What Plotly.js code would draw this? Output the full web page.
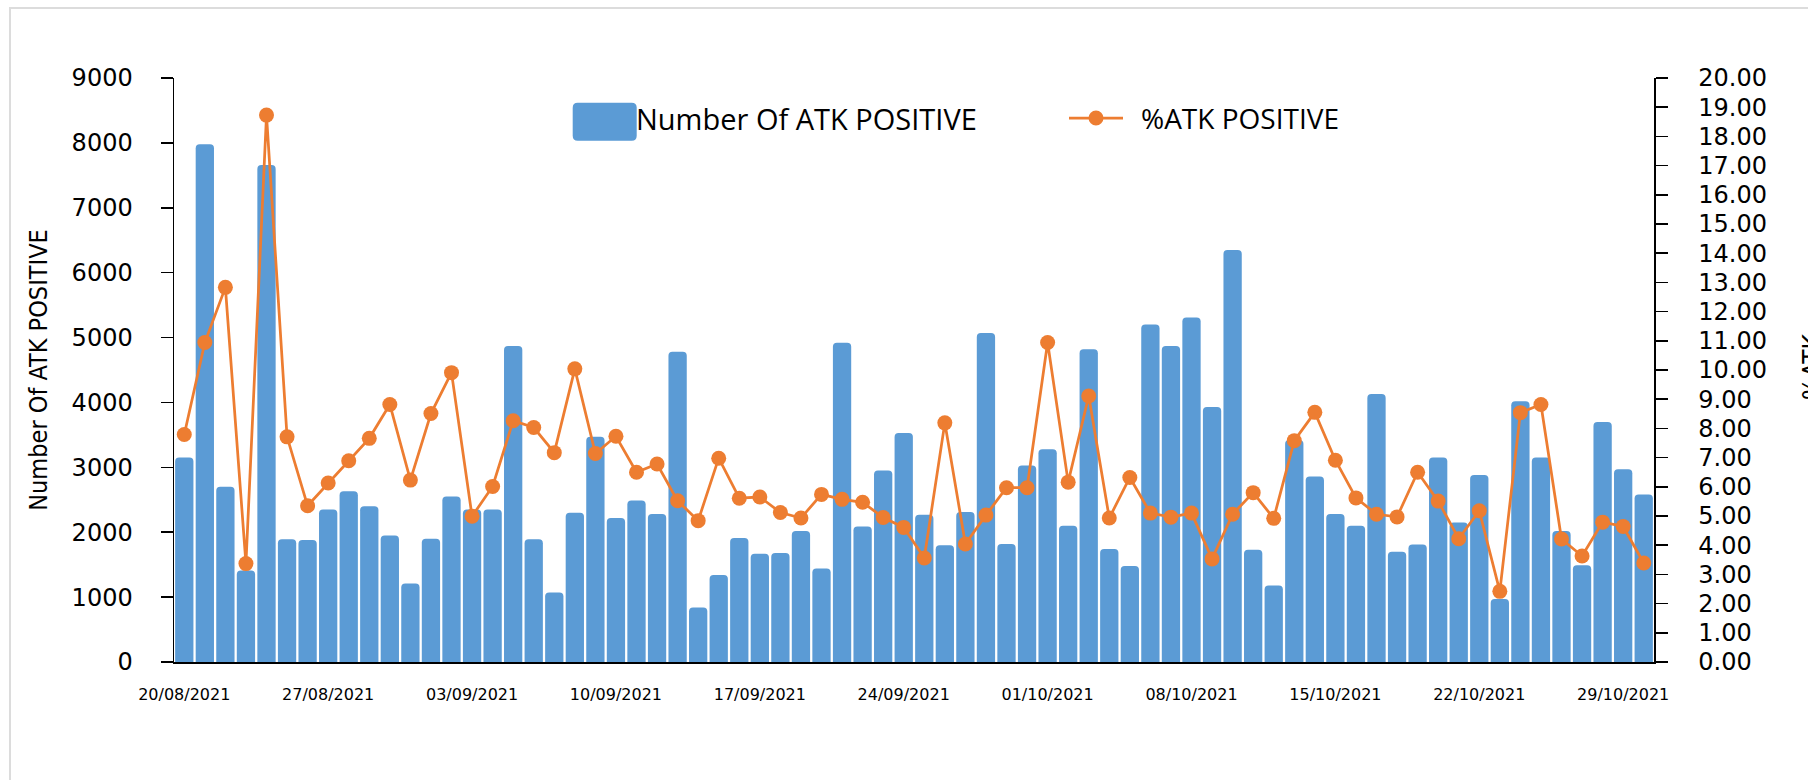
<!DOCTYPE html>
<html>
<head>
<meta charset="utf-8">
<script src="https://cdn.plot.ly/plotly-3.0.1.min.js"></script>
<style>
html,body{margin:0;padding:0;background:#fff;overflow:hidden;}
#chart{width:1808px;height:780px;}
#frame{position:absolute;left:9px;top:7px;width:1820px;height:800px;border-left:2px solid #dcdcdc;border-top:2px solid #dcdcdc;pointer-events:none;}
</style>
</head>
<body>
<div id="chart"></div>
<div id="frame"></div>
<script>
// ---- data ----
const dates = [
  "20/08/2021","21/08/2021","22/08/2021","23/08/2021","24/08/2021","25/08/2021","26/08/2021",
  "27/08/2021","28/08/2021","29/08/2021","30/08/2021","31/08/2021","01/09/2021","02/09/2021",
  "03/09/2021","04/09/2021","05/09/2021","06/09/2021","07/09/2021","08/09/2021","09/09/2021",
  "10/09/2021","11/09/2021","12/09/2021","13/09/2021","14/09/2021","15/09/2021","16/09/2021",
  "17/09/2021","18/09/2021","19/09/2021","20/09/2021","21/09/2021","22/09/2021","23/09/2021",
  "24/09/2021","25/09/2021","26/09/2021","27/09/2021","28/09/2021","29/09/2021","30/09/2021",
  "01/10/2021","02/10/2021","03/10/2021","04/10/2021","05/10/2021","06/10/2021","07/10/2021",
  "08/10/2021","09/10/2021","10/10/2021","11/10/2021","12/10/2021","13/10/2021","14/10/2021",
  "15/10/2021","16/10/2021","17/10/2021","18/10/2021","19/10/2021","20/10/2021","21/10/2021",
  "22/10/2021","23/10/2021","24/10/2021","25/10/2021","26/10/2021","27/10/2021","28/10/2021",
  "29/10/2021","30/10/2021"
];

const atkPositive = [
  3150,7980,2700,1410,7660,1890,1880,2350,2630,2400,
  1950,1210,1900,2550,2350,2350,4870,1890,1070,2300,
  3470,2220,2490,2280,4780,840,1340,1910,1670,1680,
  2020,1440,4920,2090,2950,3530,2270,1800,2310,5070,
  1820,3030,3280,2100,4820,1740,1480,5200,4870,5310,
  3930,6350,1730,1180,3420,2860,2280,2100,4130,1700,
  1810,3150,2150,2880,970,4020,3150,2020,1490,3700,
  2970,2580
];

const atkPositivePct = [
  7.79,10.94,12.83,3.37,18.73,7.71,5.35,6.13,6.89,7.66,
  8.82,6.23,8.51,9.91,4.99,6.01,8.26,8.03,7.17,10.04,
  7.14,7.73,6.50,6.78,5.52,4.84,6.98,5.61,5.65,5.12,
  4.93,5.74,5.57,5.47,4.95,4.61,3.56,8.19,4.04,5.03,
  5.97,5.97,10.94,6.16,9.11,4.93,6.32,5.10,4.96,5.10,
  3.53,5.06,5.80,4.92,7.58,8.55,6.91,5.62,5.06,4.97,
  6.50,5.51,4.22,5.18,2.42,8.54,8.82,4.21,3.63,4.79,
  4.64,3.39
];

const xTickLabels = [
  "20/08/2021","27/08/2021","03/09/2021","10/09/2021","17/09/2021","24/09/2021",
  "01/10/2021","08/10/2021","15/10/2021","22/10/2021","29/10/2021"
];

const barName = "Number Of ATK POSITIVE";
const lineName = "%ATK POSITIVE";
const leftTitle = "Number Of ATK POSITIVE";
const rightTitle = "%ATK";

// ---- styles ----
const BLUE = "#5B9BD5";
const ORANGE = "#ED7D31";
const TICKFONT = '"DejaVu Sans", Verdana, sans-serif';
const LEGFONT = '"Open Sans", "Noto Sans", sans-serif';
const NARROW = '"DejaVu Sans Condensed", "Liberation Sans Narrow", sans-serif';

// plot area geometry (px) for legend placement
const M = {l:174, r:154, t:78, b:118};
const W = 1808, H = 780;
const pw = W - M.l - M.r, ph = H - M.t - M.b;
const px = v => (v - M.l) / pw;
const py = v => (H - M.b - v) / ph;

const traces = [
  {
    type: "bar",
    name: barName,
    x: dates,
    y: atkPositive,
    marker: {color: BLUE, line: {width: 0}, cornerradius: 4},
    yaxis: "y",
    showlegend: false
  },
  {
    type: "scatter",
    mode: "lines+markers",
    name: lineName,
    x: dates,
    y: atkPositivePct,
    line: {color: ORANGE, width: 2.75},
    marker: {color: ORANGE, size: 15},
    yaxis: "y2",
    cliponaxis: false,
    showlegend: false
  }
];

const layout = {
  width: W, height: H,
  margin: M,
  paper_bgcolor: "rgba(0,0,0,0)",
  plot_bgcolor: "rgba(0,0,0,0)",
  bargap: 0.11,
  showlegend: false,
  font: {family: TICKFONT, color: "#000"},
  xaxis: {
    type: "category",
    categoryorder: "array",
    categoryarray: dates,
    range: [-0.5, dates.length - 0.5],
    autorange: false,
    tickmode: "array",
    tickvals: xTickLabels,
    ticktext: xTickLabels,
    ticks: "",
    showgrid: false,
    zeroline: false,
    showline: true,
    linecolor: "#000",
    linewidth: 1.5,
    tickfont: {family: TICKFONT, size: 16, color: "#000"},
    ticklabelstandoff: 17,
    tickangle: 0,
    automargin: false
  },
  yaxis: {
    range: [0, 9000],
    autorange: false,
    dtick: 1000,
    tick0: 0,
    showgrid: false,
    zeroline: false,
    showline: true,
    linecolor: "#000",
    linewidth: 1.5,
    ticks: "outside",
    ticklen: 12,
    tickwidth: 1.5,
    tickcolor: "#000",
    tickfont: {family: TICKFONT, size: 24, color: "#000"},
    ticklabelstandoff: 23,
    automargin: false,
    title: {
      text: leftTitle,
      font: {family: NARROW, size: 25, color: "#000"},
      standoff: 17
    }
  },
  yaxis2: {
    overlaying: "y",
    side: "right",
    range: [0, 20],
    autorange: false,
    dtick: 1,
    tick0: 0,
    tickformat: ".2f",
    showgrid: false,
    zeroline: false,
    showline: true,
    linecolor: "#000",
    linewidth: 1.5,
    ticks: "outside",
    ticklen: 12,
    tickwidth: 1.5,
    tickcolor: "#000",
    tickfont: {family: TICKFONT, size: 24, color: "#000"},
    ticklabelstandoff: 26,
    automargin: false
  },
  shapes: [
    // legend: bar swatch (rounded box)
    {
      type: "path", xref: "paper", yref: "paper",
      xsizemode: "pixel", ysizemode: "pixel",
      xanchor: px(604.7), yanchor: py(121.7),
      path: "M-27,-19 H27 Q32,-19 32,-14 V14 Q32,19 27,19 H-27 Q-32,19 -32,14 V-14 Q-32,-19 -27,-19 Z",
      fillcolor: BLUE, line: {width: 0}, layer: "above"
    },
    // legend: line sample
    {
      type: "line", xref: "paper", yref: "paper",
      x0: px(1069), x1: px(1123), y0: py(118), y1: py(118),
      line: {color: ORANGE, width: 2.75}, layer: "above"
    },
    {
      type: "circle", xref: "paper", yref: "paper",
      xsizemode: "pixel", ysizemode: "pixel",
      xanchor: px(1096), yanchor: py(118),
      x0: -7.5, x1: 7.5, y0: -7.5, y1: 7.5,
      fillcolor: ORANGE, line: {width: 0}, layer: "above"
    }
  ],
  annotations: [
    {
      text: barName, xref: "paper", yref: "paper",
      x: px(634), y: py(118), xanchor: "left", yanchor: "middle",
      showarrow: false, font: {family: LEGFONT, size: 29, color: "#000"}
    },
    {
      text: lineName, xref: "paper", yref: "paper",
      x: px(1139), y: py(118), xanchor: "left", yanchor: "middle",
      showarrow: false, font: {family: LEGFONT, size: 28, color: "#000"}
    },
    {
      text: rightTitle, xref: "paper", yref: "paper",
      x: px(1796), y: py(367), xanchor: "left", yanchor: "middle",
      textangle: -90,
      showarrow: false, font: {family: NARROW, size: 26, color: "#000"}
    }
  ]
};

Plotly.newPlot("chart", traces, layout, {displayModeBar: false, staticPlot: true});
</script>
</body>
</html>
